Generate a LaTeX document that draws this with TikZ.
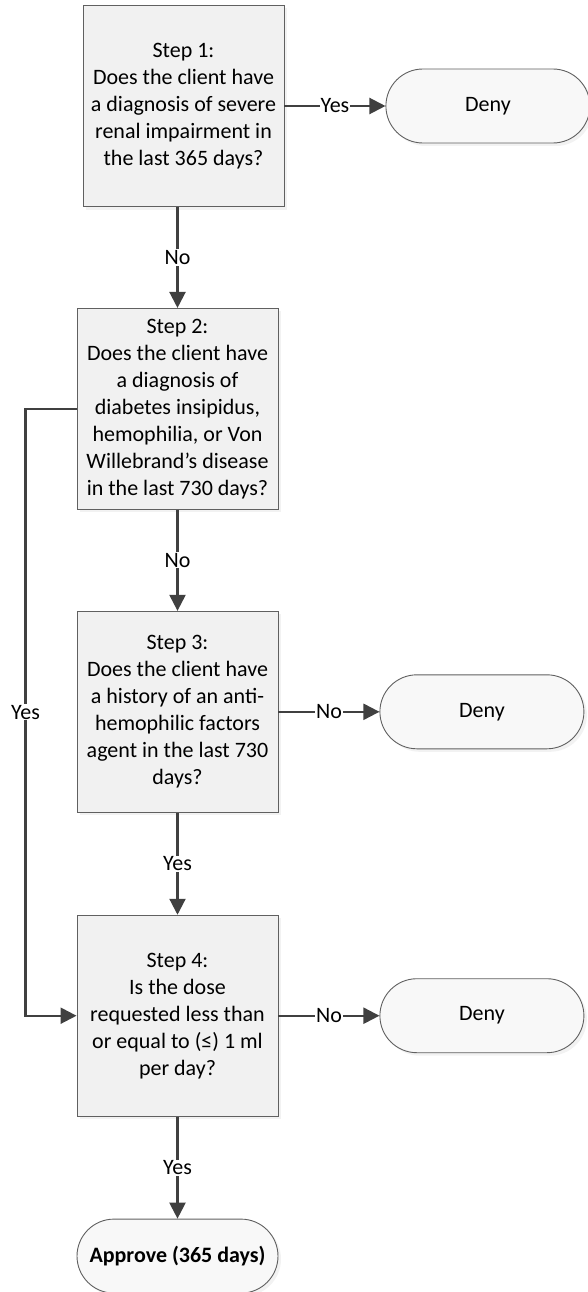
\documentclass[tikz,border=0pt]{standalone}
\usepackage{fontspec}
\setmainfont{Carlito}
\usetikzlibrary{positioning,calc}
\usetikzlibrary{arrows.meta}
\usetikzlibrary{shadows}

\definecolor{lineclr}{HTML}{404040}
\definecolor{edgeclr}{HTML}{606060}
\definecolor{boxfill}{HTML}{F1F1F1}
\definecolor{endfill}{HTML}{F8F8F8}

\begin{document}
\begin{tikzpicture}[
         x=1pt, y=1pt,
         font=\fontsize{22}{27}\selectfont,
         stepbox/.style = {draw=edgeclr, line width=0.9pt, align=center,
         minimum width=201pt, minimum height=201pt, inner sep=0pt,
         fill=boxfill,
         drop shadow={shadow xshift=3pt, shadow yshift=-3pt, fill=black!10}},
         endbox/.style = {draw=edgeclr, line width=0.9pt, align=center,
         minimum width=204pt, minimum height=74pt, inner sep=0pt,
         rounded corners=37pt, fill=endfill,
         drop shadow={shadow xshift=3pt, shadow yshift=-3pt, fill=black!10}},
         flow/.style = {draw=lineclr, line width=2.2pt,
         -{Triangle[length=16pt,width=16pt]}},
         lbl/.style = {fill=white, inner sep=1pt}
]

      % page frame
      \useasboundingbox (0,0) rectangle (587,-1292);

      % questions
      \node[stepbox] at (183.5,-106) (s1)
         {Step 1:\\Does the client have\\a diagnosis of severe\\renal impairment in\\the last 365 days?};
      \node[stepbox, below=101pt of s1, xshift=-6pt] (s2)
         {Step 2:\\Does the client have\\a diagnosis of\\diabetes insipidus,\\hemophilia, or Von\\Willebrand’s disease\\in the last 730 days?};
      \node[stepbox, below=101pt of s2] (s3)
         {Step 3:\\Does the client have\\a history of an anti-\\hemophilic factors\\agent in the last 730\\days?};
      \node[stepbox, below=102pt of s3] (s4)
         {Step 4:\\Is the dose\\requested less than\\or equal to (≤) 1 ml\\per day?};

      % outcomes
      \node[endbox, right=101pt of s1] (deny1) {Deny};
      \node[endbox, right=101pt of s3] (deny2) {Deny};
      \node[endbox, right=101pt of s4] (deny3) {Deny};
      \node[endbox, minimum width=201pt, below=102pt of s4] (approve)
         {\bfseries Approve (365 days)};

      % yes / no connectors
      \draw[flow] (s1) -- node[lbl] {Yes} (deny1);
      \draw[flow] (s2.north |- s1.south) -- node[lbl] {No} (s2);
      \draw[flow] (s2) -- node[lbl] {No} (s3);
      \draw[flow] (s3) -- node[lbl] {No} (deny2);
      \draw[flow] (s3) -- node[lbl] {Yes} (s4);
      \draw[flow] (s4) -- node[lbl] {No} (deny3);
      \draw[flow] (s4) -- node[lbl] {Yes} (approve);

      % skip step 3
      \coordinate (loop) at ($(s2.west)+(-51pt,0)$);
      \draw[flow] (s2.west) -- (loop) |- node[lbl, pos=0.25] {Yes} (s4.west);

\end{tikzpicture}
\end{document}
